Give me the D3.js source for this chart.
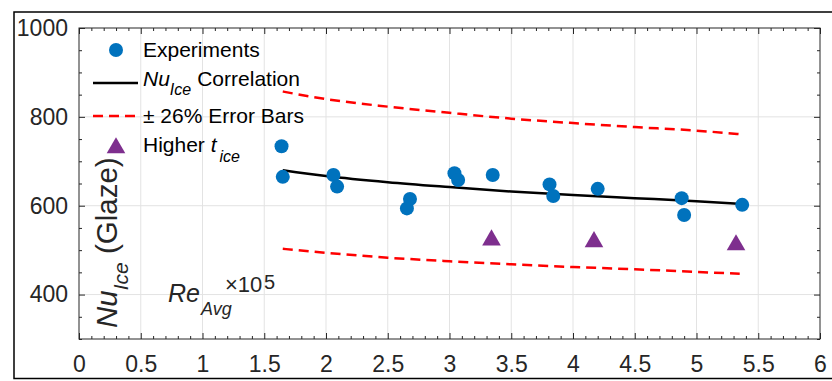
<!DOCTYPE html>
<html>
<head>
<meta charset="utf-8">
<script src="https://cdn.jsdelivr.net/npm/d3@7"></script>
<style>
  html, body { margin: 0; padding: 0; background: #fff; }
  svg { display: block; font-family: "Liberation Sans", Arial, Helvetica, sans-serif; }
</style>
</head>
<body>
<svg id="chart" width="832" height="381"></svg>
<script>
// ---- data ----
const reExp  = [1.64, 1.65, 2.06, 2.09, 2.655, 2.68, 3.04, 3.07, 3.35, 3.81, 3.84, 4.20, 4.88, 4.90, 5.37];
const nuExp  = [734, 665, 669, 643, 594, 615, 673, 658, 669, 648, 622, 638, 617, 579, 602];
const reHigh = [3.34, 4.17, 5.32];
const nuHigh = [525, 521, 514];
const reFit  = [1.65, 2.0, 2.5, 3.0, 3.5, 4.0, 4.5, 5.0, 5.35];
const nuFit  = [680, 667, 653, 642, 632, 624, 617, 610, 604];
const nuUp   = [857, 840, 823, 809, 796, 786, 777, 769, 761];
const nuLow  = [503, 494, 483, 475, 468, 462, 457, 451, 447];
const xTicks = [0, 0.5, 1, 1.5, 2, 2.5, 3, 3.5, 4, 4.5, 5, 5.5, 6];
const xTickLabels = ["0", "0.5", "1", "1.5", "2", "2.5", "3", "3.5", "4", "4.5", "5", "5.5", "6"];
const yTicks = [400, 600, 800, 1000];
const yTickLabels = ["400", "600", "800", "1000"];
const legendLabels = ["Experiments", "Correlation", "\u00B1 26% Error Bars", "Higher "];

// ---- layout ----
const svg = d3.select("#chart");
const L = 79, R = 820, T = 28, B = 339;
const x = d3.scaleLinear().domain([0, 6]).range([L, R]);
const y = d3.scaleLinear().domain([300, 1000]).range([B, T]);
const axisColor = "#262626";
const blue = "#0072BD", purple = "#7E2F8E", red = "#FF0000";

svg.append("rect").attr("width", 832).attr("height", 381).attr("fill", "#fff");

// outer figure frame
svg.append("rect").attr("x", 14).attr("y", 12).attr("width", 840).attr("height", 366.5)
  .attr("fill", "none").attr("stroke", "#000").attr("stroke-width", 1.5);

// grid
const grid = svg.append("g");
grid.selectAll("line.gx").data(xTicks.filter(d => d > 0 && d < 6)).join("line")
  .attr("x1", d => x(d)).attr("x2", d => x(d)).attr("y1", T).attr("y2", B)
  .attr("stroke", "#e3e3e3").attr("stroke-width", 1);
grid.selectAll("line.gy").data(yTicks.filter(d => d < 1000)).join("line")
  .attr("y1", d => y(d)).attr("y2", d => y(d)).attr("x1", L).attr("x2", R)
  .attr("stroke", "#e3e3e3").attr("stroke-width", 1);

// axes
const xMinor = d3.range(0, 61).map(i => i / 10).filter(v => Math.abs(v * 2 - Math.round(v * 2)) > 1e-6);
const yMinor = d3.range(300, 1001, 50).filter(v => v % 200 !== 0);

function styleAxis(g) {
  g.select(".domain").remove();
  g.selectAll(".tick line").attr("stroke", axisColor).attr("stroke-width", 1);
  g.selectAll(".tick text").attr("fill", axisColor).attr("font-size", 23).attr("font-family", "Liberation Sans, Arial, sans-serif");
}
const fmtX = d => xTickLabels[xTicks.indexOf(d)];
const fmtY = d => yTickLabels[yTicks.indexOf(d)];

svg.append("g").attr("transform", `translate(0,${B})`)
  .call(d3.axisBottom(x).tickValues(xTicks).tickFormat(fmtX).tickSizeInner(-6).tickSizeOuter(0).tickPadding(17))
  .call(styleAxis);
svg.append("g").attr("transform", `translate(0,${B})`)
  .call(d3.axisBottom(x).tickValues(xMinor).tickFormat("").tickSizeInner(-3).tickSizeOuter(0))
  .call(styleAxis);
svg.append("g").attr("transform", `translate(0,${T})`)
  .call(d3.axisTop(x).tickValues(xTicks).tickFormat("").tickSizeInner(-6).tickSizeOuter(0))
  .call(styleAxis);
svg.append("g").attr("transform", `translate(0,${T})`)
  .call(d3.axisTop(x).tickValues(xMinor).tickFormat("").tickSizeInner(-3).tickSizeOuter(0))
  .call(styleAxis);
svg.append("g").attr("transform", `translate(${L},0)`)
  .call(d3.axisLeft(y).tickValues(yTicks).tickFormat(fmtY).tickSizeInner(-6).tickSizeOuter(0).tickPadding(11))
  .call(styleAxis);
svg.append("g").attr("transform", `translate(${L},0)`)
  .call(d3.axisLeft(y).tickValues(yMinor).tickFormat("").tickSizeInner(-3).tickSizeOuter(0))
  .call(styleAxis);
svg.append("g").attr("transform", `translate(${R},0)`)
  .call(d3.axisRight(y).tickValues(yTicks).tickFormat("").tickSizeInner(-6).tickSizeOuter(0))
  .call(styleAxis);
svg.append("g").attr("transform", `translate(${R},0)`)
  .call(d3.axisRight(y).tickValues(yMinor).tickFormat("").tickSizeInner(-3).tickSizeOuter(0))
  .call(styleAxis);

// axes box
svg.append("rect").attr("x", L).attr("y", T).attr("width", R - L).attr("height", B - T)
  .attr("fill", "none").attr("stroke", axisColor).attr("stroke-width", 1);

// curves
const line = vals => d3.line().x((d, i) => x(reFit[i])).y(d => y(d)).curve(d3.curveMonotoneX)(vals);
svg.append("path").attr("d", line(nuUp)).attr("fill", "none").attr("stroke", red)
  .attr("stroke-width", 2.5).attr("stroke-dasharray", "10,6");
svg.append("path").attr("d", line(nuLow)).attr("fill", "none").attr("stroke", red)
  .attr("stroke-width", 2.5).attr("stroke-dasharray", "10,6");
svg.append("path").attr("d", line(nuFit)).attr("fill", "none").attr("stroke", "#000")
  .attr("stroke-width", 2.5);

// markers
const tri = d3.symbol().type(d3.symbolTriangle).size(150);
svg.append("g").selectAll("circle").data(reExp).join("circle")
  .attr("cx", d => x(d)).attr("cy", (d, i) => y(nuExp[i])).attr("r", 7).attr("fill", blue);
svg.append("g").selectAll("path").data(reHigh).join("path")
  .attr("d", tri).attr("transform", (d, i) => `translate(${x(d)},${y(nuHigh[i]) + 1})`).attr("fill", purple);

// legend
const lg = svg.append("g").attr("font-size", 21).attr("fill", "#000");
lg.append("circle").attr("cx", 116).attr("cy", 50).attr("r", 7).attr("fill", blue);
lg.append("text").attr("x", 143).attr("y", 57).text(legendLabels[0]);
lg.append("line").attr("x1", 93).attr("x2", 138).attr("y1", 83).attr("y2", 83)
  .attr("stroke", "#000").attr("stroke-width", 2.5);
const t2 = lg.append("text").attr("x", 143).attr("y", 86);
t2.append("tspan").attr("font-style", "italic").text("Nu");
t2.append("tspan").attr("font-style", "italic").attr("font-size", 16).attr("dy", 9).text("Ice");
t2.append("tspan").attr("dy", -9).attr("dx", 6).text(legendLabels[1]);
lg.append("line").attr("x1", 93).attr("x2", 138).attr("y1", 116).attr("y2", 116)
  .attr("stroke", red).attr("stroke-width", 2.5).attr("stroke-dasharray", "10,6");
lg.append("text").attr("x", 143).attr("y", 123).text(legendLabels[2]);
lg.append("path").attr("d", tri).attr("transform", "translate(116,148)").attr("fill", purple);
const t4 = lg.append("text").attr("x", 143).attr("y", 152);
t4.append("tspan").text(legendLabels[3]);
t4.append("tspan").attr("font-style", "italic").text("t");
t4.append("tspan").attr("font-style", "italic").attr("font-size", 16).attr("dy", 10).attr("dx", 3).text("ice");

// y label (inside plot)
const yl = svg.append("text").attr("font-size", 29.5).attr("fill", axisColor)
  .attr("transform", "translate(117,328) rotate(-90)");
yl.append("tspan").attr("font-style", "italic").text("Nu");
yl.append("tspan").attr("font-style", "italic").attr("font-size", 21).attr("dy", 11).text("Ice");
yl.append("tspan").attr("dy", -11).text(" (Glaze)");

// x label with exponent (inside plot)
const xl = svg.append("g").attr("fill", axisColor);
xl.append("text").attr("x", 168).attr("y", 302).attr("font-size", 25).attr("font-style", "italic").text("Re");
xl.append("text").attr("x", 201).attr("y", 315).attr("font-size", 18).attr("font-style", "italic").text("Avg");
xl.append("text").attr("x", 225).attr("y", 292).attr("font-size", 22).text("\u00D710");
xl.append("text").attr("x", 264).attr("y", 289).attr("font-size", 20).text("5");
</script>
</body>
</html>
